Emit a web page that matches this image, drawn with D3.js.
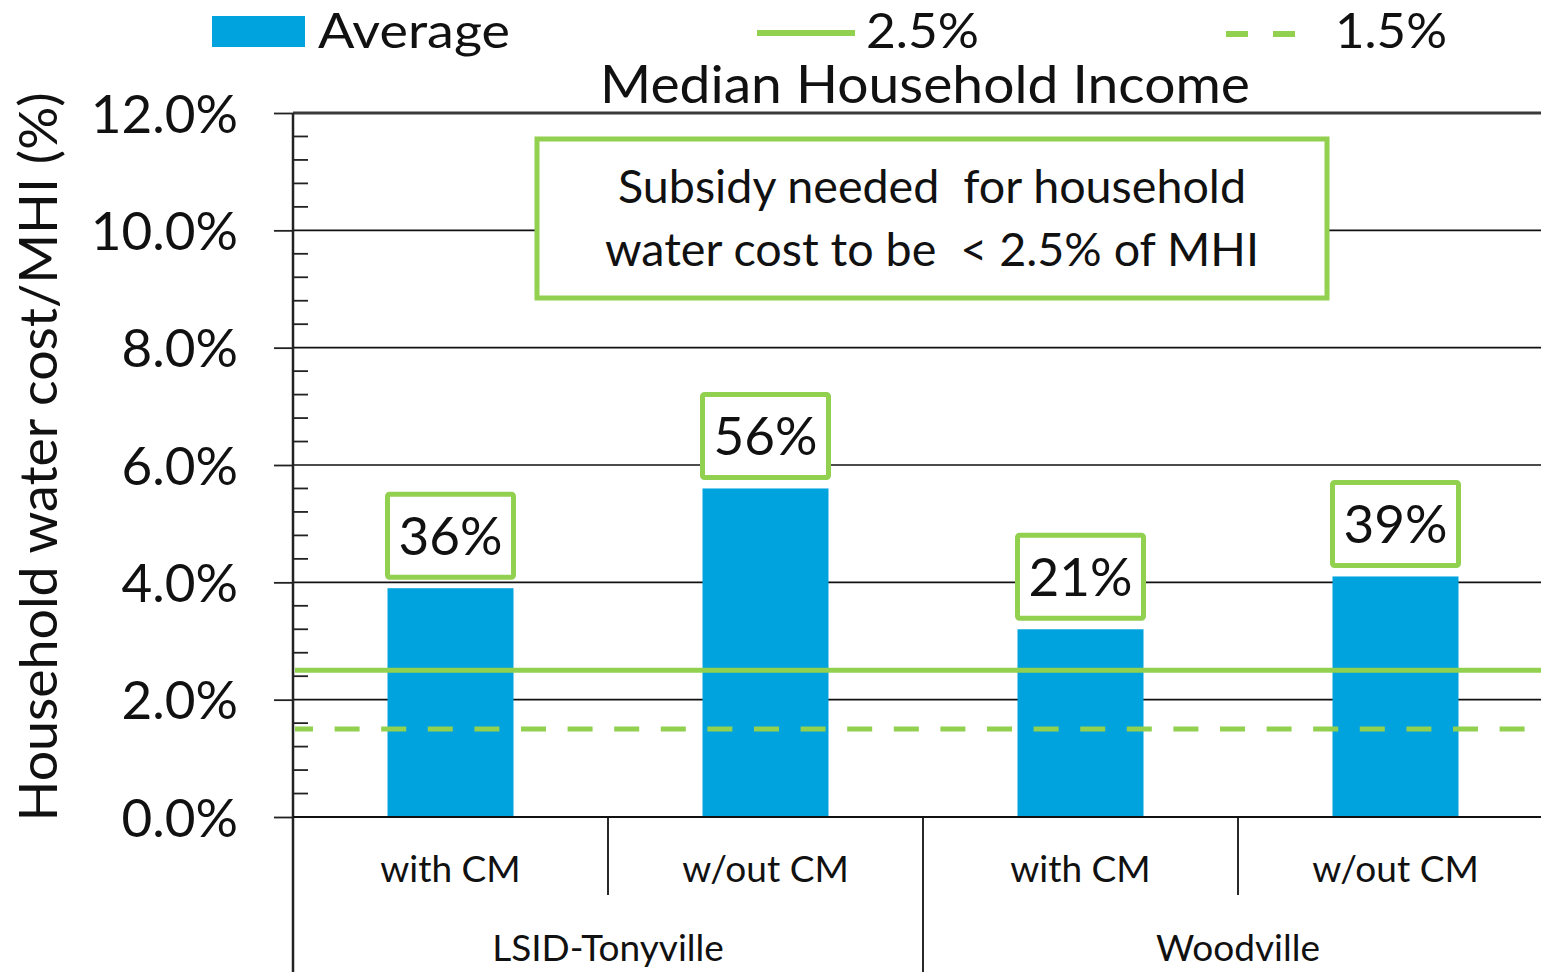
<!DOCTYPE html>
<html><head><meta charset="utf-8">
<script src="https://cdn.jsdelivr.net/npm/d3@7"></script>
<style>body{margin:0;background:#fff;overflow:hidden}svg{display:block}text{font-family:Lato,"Open Sans",sans-serif;fill:#111}</style>
</head><body>
<script>
// ---- data ----
const categories = ["with CM","w/out CM","with CM","w/out CM"];
const groups = ["LSID-Tonyville","Woodville"];
const averageValues = [3.9, 5.6, 3.2, 4.1];
const subsidyLabels = ["36%","56%","21%","39%"];
const thresholdValues = [2.5, 1.5];
const thresholdNames = ["2.5%","1.5%"];
const yTicks = [0,2,4,6,8,10,12];
const yTickLabels = ["0.0%","2.0%","4.0%","6.0%","8.0%","10.0%","12.0%"];
const seriesName = "Average";
const titleText = "Median Household Income";
const yTitle = "Household water cost/MHI (%)";
const noteLines = ["Subsidy needed  for household","water cost to be  < 2.5% of MHI"];

const W = 1541, H = 972;
const blue = "#00A3DD", green = "#92D050";
const svg = d3.select("body").append("svg").attr("width", W).attr("height", H);

function fit(sel, w) { sel.attr("textLength", w).attr("lengthAdjust", "spacingAndGlyphs"); return sel; }

const x0 = 293, step = 315;
const x = d3.scaleBand().domain(d3.range(categories.length)).range([x0, x0 + step*categories.length]).paddingInner(0).paddingOuter(0);
const y = d3.scaleLinear().domain([0, 12]).range([817, 113]);
const barW = x.bandwidth()*0.4;

// gridlines
svg.append("g").selectAll("line").data(yTicks.filter(d=>d>0)).join("line")
  .attr("x1", x0).attr("x2", W).attr("y1", d=>y(d)).attr("y2", d=>y(d))
  .attr("stroke", d=> d===12 ? "#3a3a3a" : "#111").attr("stroke-width", d=> d===12 ? 3 : 1.6);

// y axis
const yAxis = d3.axisLeft(y).tickValues(yTicks).tickFormat((d,i)=>yTickLabels[i]).tickSizeOuter(0).tickSize(19).tickPadding(36);
const ga = svg.append("g").attr("transform", `translate(${x0},0)`).call(yAxis);
ga.select(".domain").remove();
ga.selectAll(".tick line").attr("stroke","#222").attr("stroke-width",1.8);
ga.selectAll(".tick text").style("font-family","Lato").style("font-size","53px").attr("fill","#111").attr("dy","0.36em");
// minor ticks
const minor = d3.range(0, 12.001, 0.4).filter(v => Math.abs(v/2 - Math.round(v/2)) > 1e-6);
svg.append("g").selectAll("line").data(minor).join("line")
  .attr("x1", x0).attr("x2", x0+15).attr("y1", d=>y(d)).attr("y2", d=>y(d))
  .attr("stroke","#222").attr("stroke-width",1.8);
svg.append("line").attr("x1",x0).attr("x2",x0).attr("y1",y(12)).attr("y2",H).attr("stroke","#222").attr("stroke-width",2.5);

// bars
svg.append("g").selectAll("rect").data(averageValues).join("rect")
  .attr("x",(d,i)=>x(i)+(x.bandwidth()-barW)/2).attr("width",barW)
  .attr("y",d=>y(d)).attr("height",d=>y(0)-y(d)).attr("fill",blue);

// x axis baseline & separators
svg.append("line").attr("x1",x0).attr("x2",W).attr("y1",y(0)).attr("y2",y(0)).attr("stroke","#111").attr("stroke-width",2);
svg.append("g").selectAll("line").data(d3.range(1,categories.length)).join("line")
  .attr("x1",i=>x(i)).attr("x2",i=>x(i)).attr("y1",y(0))
  .attr("y2",i=> i%2===0 ? H : 895).attr("stroke","#111").attr("stroke-width",1.8);
svg.append("g").selectAll("text").data(categories).join("text")
  .attr("x",(d,i)=>x(i)+x.bandwidth()/2).attr("y",882).attr("text-anchor","middle")
  .style("font-size","37px").text(d=>d);
svg.append("g").selectAll("text").data(groups).join("text")
  .attr("x",(d,i)=>x(i*2)+x.bandwidth()).attr("y",961).attr("text-anchor","middle")
  .style("font-size","37px").text(d=>d);

// threshold lines
svg.append("line").attr("x1",x0+2).attr("x2",W).attr("y1",y(thresholdValues[0])).attr("y2",y(thresholdValues[0]))
  .attr("stroke",green).attr("stroke-width",5);
svg.append("line").attr("x1",x0+2).attr("x2",W).attr("y1",y(thresholdValues[1])).attr("y2",y(thresholdValues[1]))
  .attr("stroke",green).attr("stroke-width",5).attr("stroke-dasharray","25,21.6").attr("stroke-dashoffset",7);

// value label boxes
const lb = svg.append("g").selectAll("g").data(subsidyLabels).join("g")
  .attr("transform",(d,i)=>`translate(${x(i)+x.bandwidth()/2},${y(averageValues[i])-11})`);
lb.append("rect").attr("x",-63).attr("y",-83).attr("width",126).attr("height",83)
  .attr("fill","#fff").attr("stroke",green).attr("stroke-width",5).attr("rx",2);
lb.append("text").attr("y",-22).attr("text-anchor","middle").style("font-size","53px").text(d=>d);

// annotation box
svg.append("rect").attr("x",537).attr("y",139).attr("width",790).attr("height",159)
  .attr("fill","#fff").attr("stroke",green).attr("stroke-width",5);
const noteW = [628, 654];
svg.append("g").selectAll("text").data(noteLines).join("text")
  .attr("x",932).attr("y",(d,i)=>203+i*63).attr("text-anchor","middle")
  .style("font-size","46px").attr("xml:space","preserve").style("white-space","pre")
  .attr("textLength",(d,i)=>noteW[i]).attr("lengthAdjust","spacingAndGlyphs").text(d=>d);

// title
fit(svg.append("text").attr("x",925).attr("y",103).attr("text-anchor","middle").style("font-size","53px").text(titleText), 650);

// y title
fit(svg.append("text").attr("transform","translate(57,457) rotate(-90)").attr("text-anchor","middle")
  .style("font-size","52px").text(yTitle), 729);

// legend
const leg = svg.append("g");
leg.append("rect").attr("x",212).attr("y",16).attr("width",93).attr("height",31).attr("fill",blue);
fit(leg.append("text").attr("x",318).attr("y",48).style("font-size","48px").text(seriesName), 192);
leg.append("line").attr("x1",757).attr("x2",855).attr("y1",33).attr("y2",33).attr("stroke",green).attr("stroke-width",6);
fit(leg.append("text").attr("x",866).attr("y",48).style("font-size","48px").text(thresholdNames[0]), 113);
leg.append("line").attr("x1",1226).attr("x2",1297).attr("y1",34).attr("y2",34).attr("stroke",green).attr("stroke-width",6).attr("stroke-dasharray","22,25");
fit(leg.append("text").attr("x",1335).attr("y",48).style("font-size","48px").text(thresholdNames[1]), 112);
</script>
</body></html>
